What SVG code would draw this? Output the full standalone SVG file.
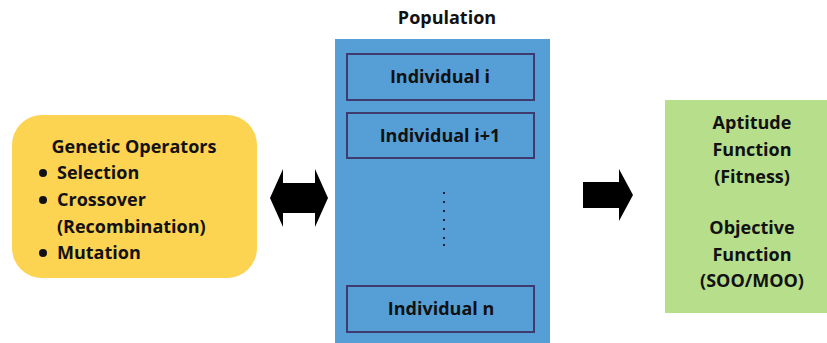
<svg xmlns="http://www.w3.org/2000/svg" width="827" height="343" viewBox="0 0 827 343">
<style>
text{font-family:"Open Sans","Liberation Sans",sans-serif;font-weight:bold;font-size:18px;fill:#111}
.c{text-anchor:middle}
.ind{fill:none;stroke:#3f3b6e;stroke-width:2}
.arr{fill:#000}
.dot{fill:#1a2233}
</style>
<rect width="827" height="343" fill="#fff"/>
<g id="operators">
<rect x="12" y="115" width="245" height="163" rx="30" fill="#fdd352"/>
<text x="134" y="153" class="c">Genetic Operators</text>
<circle cx="43" cy="173" r="4" fill="#111"/>
<text x="57" y="179">Selection</text>
<circle cx="43" cy="200" r="4" fill="#111"/>
<text x="57" y="206">Crossover</text>
<text x="57" y="233">(Recombination)</text>
<circle cx="43" cy="253" r="4" fill="#111"/>
<text x="57" y="259">Mutation</text>
</g>
<g id="population">
<text x="447" y="24" class="c">Population</text>
<rect x="335" y="39" width="215" height="304" fill="#559fd6"/>
<g id="ind-i"><rect x="347" y="54" width="187" height="46" class="ind"/><text x="440" y="83" class="c">Individual i</text></g>
<g id="ind-i1"><rect x="347" y="113" width="187" height="45" class="ind"/><text x="440" y="142" class="c">Individual i+1</text></g>
<g id="dots">
<rect x="443" y="192" width="2" height="2" class="dot"/>
<rect x="443" y="201" width="2" height="2" class="dot"/>
<rect x="443" y="210" width="2" height="2" class="dot"/>
<rect x="443" y="219" width="2" height="2" class="dot"/>
<rect x="443" y="228" width="2" height="2" class="dot"/>
<rect x="443" y="237" width="2" height="2" class="dot"/>
<rect x="443" y="244" width="2" height="2" class="dot"/>
</g>
<g id="ind-n"><rect x="347" y="286" width="187" height="46" class="ind"/><text x="441" y="315" class="c">Individual n</text></g>
</g>
<g id="fitness">
<rect x="665" y="100" width="162" height="213" fill="#b7de8b"/>
<text x="752" y="129" class="c">Aptitude</text>
<text x="752" y="156" class="c">Function</text>
<text x="752" y="183" class="c">(Fitness)</text>
<text x="752" y="234" class="c">Objective</text>
<text x="752" y="261" class="c">Function</text>
<text x="752" y="287" class="c">(SOO/MOO)</text>
</g>
<g id="connectors">
<polygon class="arr" points="270,198 283,169 283,183 315,183 315,169 328,198 315,227 315,213 283,213 283,227"/>
<polygon class="arr" points="583,182 619,182 619,169 633,195 619,221 619,208 583,208"/>
</g>
</svg>
